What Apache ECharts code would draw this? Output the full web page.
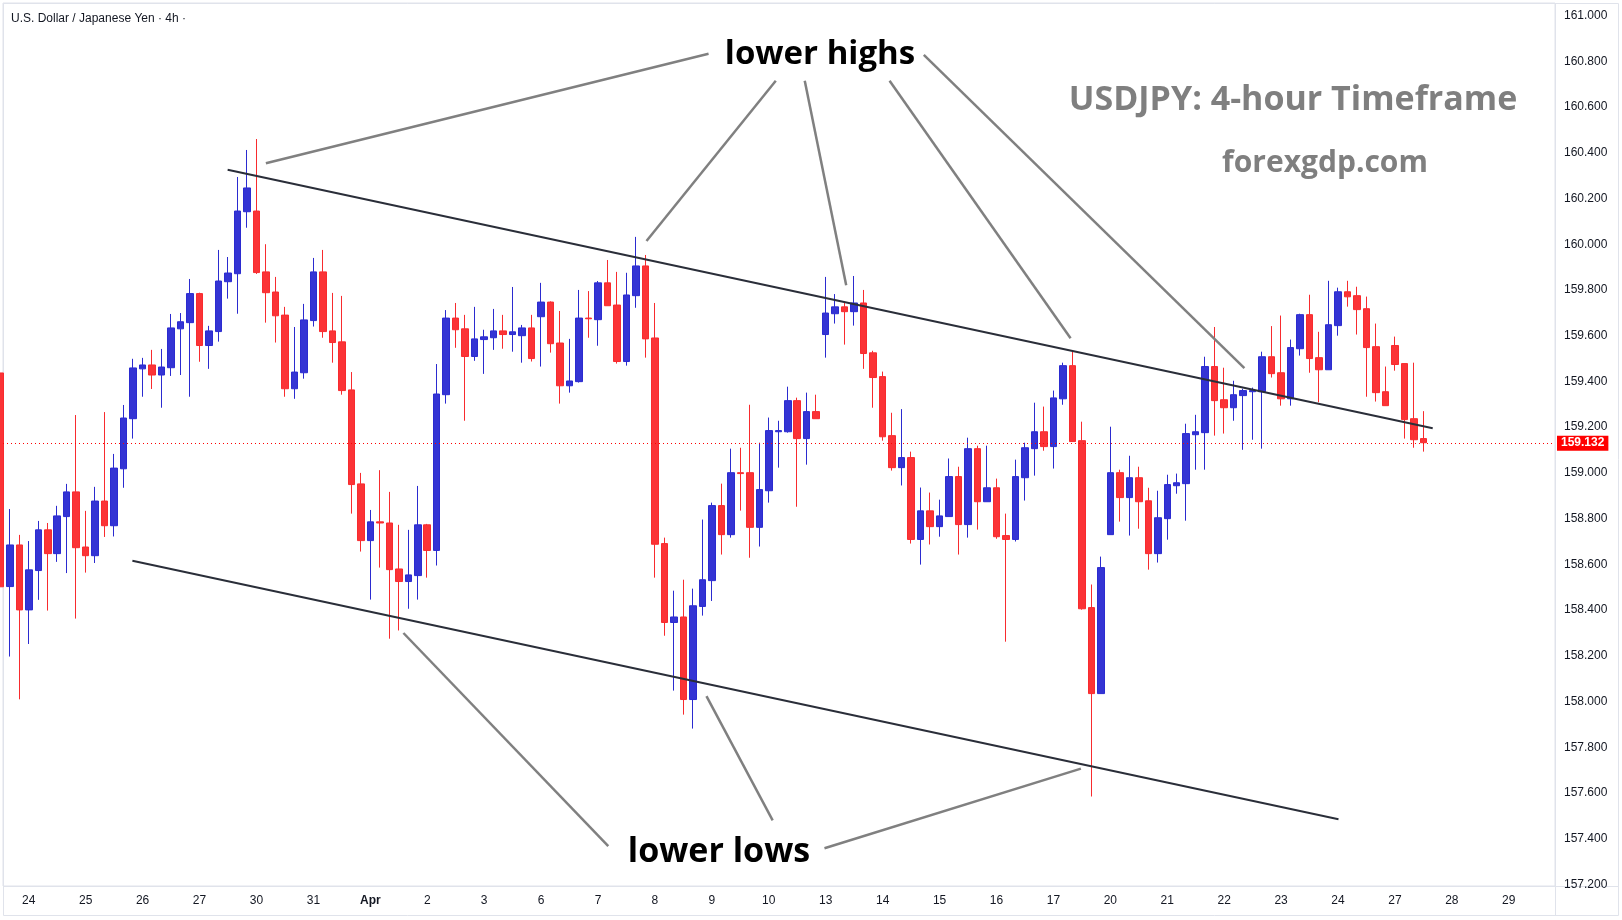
<!DOCTYPE html>
<html>
<head>
<meta charset="utf-8">
<title>USDJPY 4h</title>
<script src="https://cdn.jsdelivr.net/npm/echarts@6/dist/echarts.min.js"></script>
<style>
  html, body { margin: 0; padding: 0; background: #fff; }
  #chart { width: 1622px; height: 920px; }
</style>
</head>
<body>
<div id="chart"></div>
<script>
// 4h candles, the first one is cut off by the left border
const opens = [
  159.437,
  158.503, 158.685, 158.401, 158.573, 158.751, 158.647, 158.809, 158.917, 158.676, 158.638,
  158.877, 158.769, 159.018, 159.237, 159.455, 159.472, 159.428, 159.460, 159.630, 159.657,
  159.784, 159.557, 159.618, 159.836, 159.871, 160.142, 160.145, 159.879, 159.791, 159.690,
  159.368, 159.438, 159.666, 159.879, 159.621, 159.573, 159.363, 158.952, 158.704, 158.786,
  158.781, 158.580, 158.525, 158.551, 158.773, 158.661, 159.342, 159.677, 159.630, 159.509,
  159.583, 159.591, 159.621, 159.605, 159.600, 159.634, 159.683, 159.747, 159.568, 159.381,
  159.399, 159.677, 159.670, 159.831, 159.734, 159.487, 159.775, 159.905, 159.590, 158.691,
  158.346, 158.370, 158.009, 158.416, 158.529, 158.857, 158.730, 159.001, 159.001, 158.762,
  158.922, 159.180, 159.180, 159.316, 159.150, 159.268, 159.605, 159.696, 159.726, 159.705,
  159.743, 159.525, 159.421, 159.163, 159.023, 159.067, 158.709, 158.834, 158.765, 158.809,
  158.984, 158.774, 159.106, 158.874, 158.935, 158.726, 158.709, 158.979, 159.106, 159.180,
  159.115, 159.324, 159.469, 159.141, 158.411, 158.035, 158.730, 159.001, 158.892, 158.979,
  158.878, 158.647, 158.800, 158.944, 158.953, 159.167, 159.176, 159.465, 159.320, 159.285,
  159.338, 159.355, 159.355, 159.508, 159.438, 159.324, 159.543, 159.692, 159.504, 159.451,
  159.644, 159.792, 159.775, 159.718, 159.552, 159.355, 159.557, 159.478, 159.237, 159.150
];
const highs = [
  159.437,
  158.842, 158.729, 158.702, 158.790, 158.781, 158.856, 158.952, 159.253, 158.834, 158.939,
  159.266, 159.083, 159.297, 159.499, 159.503, 159.538, 159.542, 159.695, 159.699, 159.848,
  159.788, 159.643, 159.975, 159.944, 160.294, 160.412, 160.460, 160.000, 159.857, 159.726,
  159.638, 159.739, 159.940, 159.975, 159.787, 159.774, 159.441, 159.000, 158.838, 159.012,
  158.917, 158.773, 158.751, 158.943, 158.777, 159.476, 159.712, 159.743, 159.691, 159.726,
  159.626, 159.717, 159.691, 159.813, 159.647, 159.691, 159.831, 159.750, 159.708, 159.586,
  159.800, 159.795, 159.839, 159.931, 159.879, 159.875, 160.032, 159.953, 159.743, 158.717,
  158.485, 158.533, 158.494, 158.796, 158.870, 158.953, 159.106, 159.110, 159.298, 159.132,
  159.242, 159.228, 159.377, 159.329, 159.351, 159.342, 159.857, 159.782, 159.747, 159.861,
  159.800, 159.534, 159.443, 159.263, 159.279, 159.093, 158.936, 158.914, 158.883, 159.063,
  159.027, 159.154, 159.119, 159.119, 158.975, 158.822, 159.058, 159.132, 159.307, 159.290,
  159.360, 159.482, 159.535, 159.224, 158.512, 158.634, 159.202, 159.014, 159.075, 159.027,
  158.935, 158.922, 158.992, 158.997, 159.215, 159.254, 159.508, 159.638, 159.460, 159.403,
  159.368, 159.373, 159.530, 159.642, 159.688, 159.583, 159.696, 159.779, 159.617, 159.840,
  159.810, 159.840, 159.814, 159.771, 159.653, 159.465, 159.596, 159.478, 159.482, 159.270
];
const lows = [
  158.502,
  158.197, 158.010, 158.252, 158.445, 158.398, 158.611, 158.562, 158.363, 158.564, 158.606,
  158.720, 158.722, 158.935, 159.150, 159.333, 159.367, 159.285, 159.424, 159.428, 159.333,
  159.486, 159.455, 159.574, 159.762, 159.696, 160.072, 159.870, 159.657, 159.570, 159.333,
  159.324, 159.412, 159.640, 159.591, 159.482, 159.342, 158.822, 158.656, 158.446, 158.586,
  158.275, 158.311, 158.406, 158.446, 158.542, 158.595, 159.303, 159.547, 159.228, 159.490,
  159.433, 159.538, 159.543, 159.530, 159.482, 159.487, 159.465, 159.526, 159.303, 159.351,
  159.395, 159.591, 159.556, 159.731, 159.478, 159.469, 159.722, 159.504, 158.542, 158.288,
  158.048, 157.943, 157.882, 158.376, 158.440, 158.643, 158.717, 158.835, 158.629, 158.678,
  158.870, 159.023, 159.176, 158.852, 159.036, 159.237, 159.504, 159.653, 159.561, 159.644,
  159.455, 159.285, 159.141, 159.010, 158.945, 158.691, 158.599, 158.687, 158.721, 158.809,
  158.643, 158.717, 158.752, 158.874, 158.712, 158.262, 158.700, 158.879, 158.988, 159.097,
  159.019, 159.298, 159.137, 158.402, 157.585, 158.035, 158.730, 158.787, 158.726, 158.756,
  158.577, 158.608, 158.708, 158.909, 158.791, 159.014, 159.014, 159.163, 159.172, 159.228,
  159.101, 159.145, 159.106, 159.417, 159.294, 159.294, 159.513, 159.438, 159.309, 159.451,
  159.600, 159.727, 159.605, 159.333, 159.312, 159.294, 159.447, 159.150, 159.110, 159.093
];
const closes = [
  158.502,
  158.685, 158.401, 158.576, 158.751, 158.647, 158.812, 158.917, 158.673, 158.638, 158.877,
  158.769, 159.021, 159.240, 159.459, 159.472, 159.428, 159.463, 159.634, 159.661, 159.784,
  159.557, 159.621, 159.839, 159.874, 160.145, 160.246, 159.876, 159.788, 159.687, 159.368,
  159.441, 159.669, 159.879, 159.618, 159.570, 159.360, 158.949, 158.704, 158.786, 158.781,
  158.577, 158.525, 158.554, 158.773, 158.661, 159.345, 159.677, 159.626, 159.509, 159.586,
  159.595, 159.621, 159.605, 159.617, 159.634, 159.500, 159.747, 159.565, 159.381, 159.402,
  159.677, 159.674, 159.831, 159.731, 159.487, 159.778, 159.905, 159.586, 158.688, 158.346,
  158.370, 158.009, 158.419, 158.533, 158.857, 158.730, 159.001, 158.997, 158.762, 158.927,
  159.185, 159.185, 159.316, 159.150, 159.268, 159.237, 159.699, 159.726, 159.705, 159.743,
  159.522, 159.417, 159.158, 159.023, 159.067, 158.709, 158.834, 158.765, 158.812, 158.984,
  158.774, 159.106, 158.874, 158.935, 158.721, 158.709, 158.984, 159.110, 159.180, 159.115,
  159.328, 159.469, 159.137, 158.406, 158.035, 158.586, 159.001, 158.892, 158.979, 158.874,
  158.647, 158.804, 158.949, 158.957, 159.172, 159.180, 159.465, 159.316, 159.285, 159.342,
  159.360, 159.360, 159.508, 159.434, 159.324, 159.548, 159.692, 159.500, 159.451, 159.648,
  159.792, 159.770, 159.714, 159.548, 159.351, 159.294, 159.474, 159.233, 159.145, 159.132
];

// day labels, one per 6 candles (first one sits on candle 2)
const dayLabels = ['24', '25', '26', '27', '30', '31', 'Apr', '2', '3', '6', '7', '8', '9', '10',
  '13', '14', '15', '16', '17', '20', '21', '22', '23', '24', '27', '28', '29'];
const priceTicks = [157.2, 157.4, 157.6, 157.8, 158.0, 158.2, 158.4, 158.6, 158.8, 159.0,
  159.2, 159.4, 159.6, 159.8, 160.0, 160.2, 160.4, 160.6, 160.8, 161.0];
const lastPrice = 159.132;

// channel, [candle index, price]
const channelTop = [[22.96, 160.326], [149.98, 159.195]];
const channelBottom = [[12.92, 158.616], [140.05, 157.486]];

// pointer lines from the labels to the touches
const highPointers = [
  [[73.65, 160.833], [26.99, 160.354]],
  [[80.74, 160.715], [67.11, 160.014]],
  [[83.79, 160.715], [88.16, 159.820]],
  [[92.73, 160.715], [111.81, 159.589]],
  [[96.34, 160.828], [130.13, 159.458]]
];
const lowPointers = [
  [[63.08, 157.368], [41.49, 158.300]],
  [[80.41, 157.481], [73.43, 158.024]],
  [[85.87, 157.359], [112.90, 157.707]]
];

const candles = opens.map((o, j) => [j - 1, o, closes[j], lows[j], highs[j]]);
const dayTicks = dayLabels.map((d, k) => 2 + 6 * k);

const chart = echarts.init(document.getElementById('chart'));
chart.setOption({
  animation: false,
  backgroundColor: '#fff',
  grid: {
    left: 3, right: 67, top: 3, bottom: 34,
    containLabel: false,
    outerBoundsMode: 'none',
    show: true, borderColor: '#e0e3eb', borderWidth: 1, backgroundColor: '#fff'
  },
  xAxis: {
    type: 'value',
    min: -0.717,
    max: 162.87,
    axisLine: { show: false },
    axisTick: { show: false },
    splitLine: { show: false },
    axisLabel: {
      customValues: dayTicks,
      margin: 9,
      color: '#131722',
      fontSize: 12,
      fontFamily: 'Liberation Sans',
      formatter: v => {
        const s = dayLabels[Math.round((v - 2) / 6)];
        return s === 'Apr' ? '{b|Apr}' : s;
      },
      rich: { b: { fontWeight: 'bold', color: '#131722', fontSize: 12, fontFamily: 'Liberation Sans' } }
    }
  },
  yAxis: {
    type: 'value',
    position: 'right',
    min: 157.1937,
    max: 161.0547,
    axisLine: { show: false },
    axisTick: { show: false },
    splitLine: { show: false },
    axisLabel: {
      customValues: priceTicks,
      margin: 9,
      color: '#131722',
      fontSize: 12,
      fontFamily: 'Liberation Sans',
      formatter: v => v.toFixed(3)
    }
  },
  series: [
    {
      type: 'candlestick',
      data: candles,
      encode: { x: 0, y: [1, 2, 3, 4] },
      barWidth: 7,
      clip: true,
      itemStyle: {
        color: '#3434d4',
        color0: '#fb3336',
        borderColor: '#2b2bd0',
        borderColor0: '#f82b2e',
        borderWidth: 1
      },
      markLine: {
        silent: true,
        symbol: ['none', 'none'],
        lineStyle: { color: '#ff0000', type: [1, 3], width: 1 },
        label: {
          show: true,
          position: 'end',
          distance: 2,
          formatter: lastPrice.toFixed(3),
          backgroundColor: '#ff0000',
          color: '#fff',
          fontWeight: 'bold',
          fontSize: 12,
          fontFamily: 'Liberation Sans',
          padding: [2, 4, 1, 4]
        },
        data: [{ yAxis: lastPrice }]
      }
    },
    {
      type: 'lines',
      coordinateSystem: 'cartesian2d',
      silent: true,
      z: 5,
      lineStyle: { color: '#2a2e39', width: 2, opacity: 1 },
      data: [channelTop, channelBottom].map(c => ({ coords: c }))
    },
    {
      type: 'lines',
      coordinateSystem: 'cartesian2d',
      silent: true,
      z: 6,
      lineStyle: { color: '#808080', width: 2.5, opacity: 1 },
      data: highPointers.concat(lowPointers).map(c => ({ coords: c }))
    }
  ],
  graphic: [
    { type: 'rect', silent: true, shape: { x: 3.5, y: 3.5, width: 1615, height: 912 },
      style: { fill: null, stroke: '#e0e3eb', lineWidth: 1 } },
    { type: 'line', silent: true, shape: { x1: 3, y1: 886.5, x2: 1619, y2: 886.5 },
      style: { stroke: '#e0e3eb', lineWidth: 1 } },
    { type: 'line', silent: true, shape: { x1: 1555.5, y1: 3, x2: 1555.5, y2: 916 },
      style: { stroke: '#e0e3eb', lineWidth: 1 } },
    { type: 'text', silent: true, left: 11, top: 13,
      style: { text: 'U.S. Dollar / Japanese Yen · 4h ·', fill: '#131722', font: '12px "Liberation Sans"' } },
    { type: 'text', silent: true, x: 1293, y: 100,
      style: { text: 'USDJPY: 4-hour Timeframe', fill: '#7f7f7f', font: 'bold 34px "Open Sans"',
        textAlign: 'center', textVerticalAlign: 'middle' } },
    { type: 'text', silent: true, x: 1325, y: 163,
      style: { text: 'forexgdp.com', fill: '#7f7f7f', font: 'bold 30px "Open Sans"',
        textAlign: 'center', textVerticalAlign: 'middle' } },
    { type: 'text', silent: true, x: 820, y: 55, z: 10,
      style: { text: 'lower highs', fill: '#000', font: 'bold 33px "Open Sans"',
        textAlign: 'center', textVerticalAlign: 'middle' } },
    { type: 'text', silent: true, x: 719, y: 852, z: 10,
      style: { text: 'lower lows', fill: '#000', font: 'bold 34px "Open Sans"',
        textAlign: 'center', textVerticalAlign: 'middle' } }
  ]
});
</script>
</body>
</html>
